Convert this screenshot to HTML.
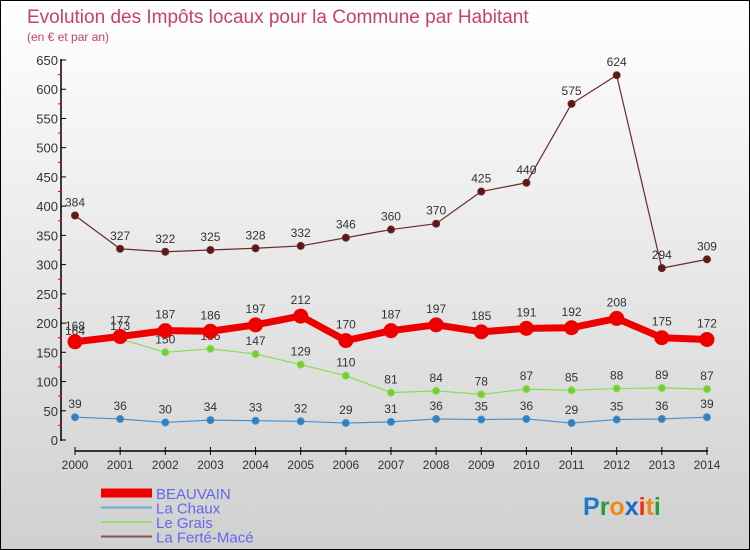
<!DOCTYPE html>
<html><head><meta charset="utf-8"><style>
body{margin:0}
#c{position:relative;width:750px;height:550px;box-sizing:border-box;border:1px solid #000;background:linear-gradient(#ffffff,#d0d0d0);font-family:"Liberation Sans",sans-serif;overflow:hidden}
</style></head><body>
<div id="c">
<svg id="s" width="748" height="548" style="position:absolute;left:0;top:0"></svg>
</div>
<script>
const years=[2000,2001,2002,2003,2004,2005,2006,2007,2008,2009,2010,2011,2012,2013,2014];
const beauvain=[168,177,187,186,197,212,170,187,197,185,191,192,208,175,172];
const laChaux=[39,36,30,34,33,32,29,31,36,35,36,29,35,36,39];
const leGrais=[164,173,150,156,147,129,110,81,84,78,87,85,88,89,87];
const ferte=[384,327,322,325,328,332,346,360,370,425,440,575,624,294,309];
const yTicks=[0,50,100,150,200,250,300,350,400,450,500,550,600,650];
const NS='http://www.w3.org/2000/svg';
const svg=document.getElementById('s');
const X=i=>74+i*45.14;
const Y=v=>439-v*0.5846;
function el(t,a,name,txt){const e=document.createElementNS(NS,t);for(const k in a)e.setAttribute(k,a[k]);


if(txt!==undefined)e.textContent=txt;svg.appendChild(e);return e;}
el('text',{x:26,y:22,fill:'#c8406e','font-size':19},'chart-title','Evolution des Impôts locaux pour la Commune par Habitant');
el('text',{x:26,y:40,fill:'#c8406e','font-size':12},'chart-subtitle','(en € et par an)');
// axes
el('line',{x1:60,y1:58,x2:60,y2:440,stroke:'#000','stroke-width':1.5},'y-axis');
el('line',{x1:74,y1:450,x2:707,y2:450,stroke:'#000','stroke-width':1.5},'x-axis');
yTicks.forEach(v=>{const y=Y(v);
el('line',{x1:60,y1:y,x2:65,y2:y,stroke:'#000'},'y-tick');
el('text',{x:57,y:y+5,'text-anchor':'end','font-size':13,fill:'#333'},'y-tick-label',v);
if(v<650)el('line',{x1:57,y1:Y(v+25),x2:61,y2:Y(v+25),stroke:'#e00'},'y-minor-tick');});
years.forEach((yr,i)=>{el('line',{x1:X(i),y1:446,x2:X(i),y2:454,stroke:'#000'},'x-tick');
el('text',{x:X(i),y:468,'text-anchor':'middle','font-size':12,fill:'#333'},'x-tick-label',yr);});
function series(data,color,w,r,name,fill,lblOff){
el('polyline',{points:data.map((v,i)=>X(i)+','+Y(v)).join(' '),fill:'none',stroke:color,'stroke-width':w,'stroke-linejoin':'round'},name+'-line');
data.forEach((v,i)=>{el('circle',{cx:X(i),cy:Y(v),r:r,fill:fill,stroke:color,'stroke-width':1},name+'-point');
el('text',{x:X(i),y:Y(v)-lblOff,'text-anchor':'middle','font-size':12,fill:'#333'},name+'-label',v);});}
series(ferte,'#6b2a2a',1.2,3.5,'ferte','#5a1a1a',9);
series(leGrais,'#88dd55',1.2,3.5,'le-grais','#77cc33',9);
series(laChaux,'#4a90c8',1.2,3.5,'la-chaux','#3080c0',9);
series(beauvain,'#ee0000',7,7,'beauvain','#ee0000',12);
// legend
const leg=[['BEAUVAIN','#ee0000',9],['La Chaux','#6aaad0',2],['Le Grais','#99dd77',2],['La Ferté-Macé','#8a5050',2]];
leg.forEach((l,i)=>{const y=492+i*14.5;
el('line',{x1:100,y1:y,x2:151,y2:y,stroke:l[1],'stroke-width':l[2]},'legend-swatch');
el('text',{x:155,y:y+6,'font-size':15,fill:'#6666ee'},'legend-entry',l[0]);});
// logo
const lg=[['P','#1a7ad0'],['r','#2a9a3a'],['o','#f08a10'],['x','#1a6ad0'],['i','#ee3010'],['t','#f08a10'],['i','#2a9a3a']];
const t=el('text',{x:582,y:514,'font-size':25,'font-weight':'bold'},'proxiti-logo');
lg.forEach(c=>{const s=document.createElementNS(NS,'tspan');s.setAttribute('fill',c[1]);s.textContent=c[0];t.appendChild(s);});
</script>
</body></html>
